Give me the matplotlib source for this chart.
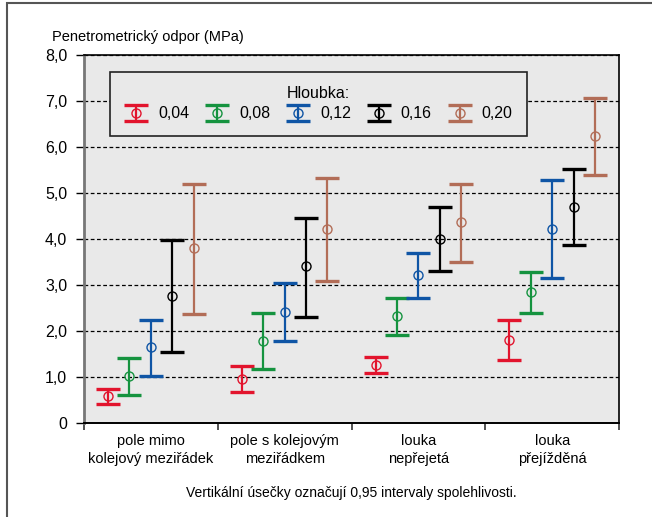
import matplotlib
matplotlib.use("Agg")
import matplotlib.pyplot as plt
import numpy as np
from matplotlib.patches import Rectangle

plt.rcParams["font.family"] = ["Liberation Sans Narrow", "Liberation Sans", "DejaVu Sans"]

# data (MPa)
categories = ["pole mimo\nkolejový meziřádek", "pole s kolejovým\nmeziřádkem",
              "louka\nnepřejetá", "louka\npřejížděná"]
depths = ["0,04", "0,08", "0,12", "0,16", "0,20"]

mean_004 = [0.58, 0.96, 1.26, 1.81]
low_004 = [0.42, 0.67, 1.08, 1.38]
high_004 = [0.74, 1.23, 1.43, 2.25]

mean_008 = [1.03, 1.78, 2.33, 2.84]
low_008 = [0.61, 1.17, 1.92, 2.39]
high_008 = [1.41, 2.39, 2.72, 3.28]

mean_012 = [1.65, 2.42, 3.21, 4.22]
low_012 = [1.03, 1.78, 2.71, 3.15]
high_012 = [2.25, 3.05, 3.70, 5.28]

mean_016 = [2.76, 3.41, 3.99, 4.69]
low_016 = [1.54, 2.31, 3.30, 3.86]
high_016 = [3.97, 4.46, 4.69, 5.52]

mean_020 = [3.80, 4.22, 4.36, 6.24]
low_020 = [2.38, 3.09, 3.50, 5.40]
high_020 = [5.20, 5.33, 5.20, 7.06]

series = [
    (mean_004, low_004, high_004, "#e2142d"),
    (mean_008, low_008, high_008, "#15933f"),
    (mean_012, low_012, high_012, "#0f55a5"),
    (mean_016, low_016, high_016, "#000000"),
    (mean_020, low_020, high_020, "#b26d57"),
]

yticks = [0, 1, 2, 3, 4, 5, 6, 7, 8]
ytick_labels = ["0", "1,0", "2,0", "3,0", "4,0", "5,0", "6,0", "7,0", "8,0"]

fig = plt.figure(figsize=(6.52, 5.17), dpi=100)
fig.patches.append(Rectangle((7 / 652, -0.1), 1.2, 1 - 3 / 517 + 0.1,
                             transform=fig.transFigure, fill=False,
                             edgecolor="#555555", linewidth=1.5))

ax = fig.add_axes([84 / 652, 94 / 517, 535 / 652, 368 / 517])
ax.set_facecolor("#e9e9e9")

centers = np.arange(len(categories)) + 0.5
step = 0.16
handles = []
for i, (mean, low, high, color) in enumerate(series):
    x = centers + (i - 2) * step
    mean = np.array(mean)
    err = [mean - np.array(low), np.array(high) - mean]
    h = ax.errorbar(x, mean, yerr=err, fmt="o", color=color, mfc="none",
                    mec=color, ms=6.5, elinewidth=1.6,
                    capsize=8.4, capthick=2.4, zorder=3)
    # thin circle edge, keep the caps bold
    h[0].set_markeredgewidth(1.0)
    handles.append(h)

ax.set_xlim(0, 4)
ax.set_ylim(0, 8)
ax.set_yticks(yticks)
ax.set_yticklabels(ytick_labels)
ax.set_xticks([0, 1, 2, 3, 4])
ax.set_xticklabels([])
ax.set_xticks(centers, minor=True)
ax.set_xticklabels(categories, minor=True, fontsize=10.5, linespacing=1.35)
ax.tick_params(axis="x", which="minor", length=0, pad=8)
ax.tick_params(axis="x", which="major", length=5, width=1.2, color="#333333")
ax.tick_params(axis="y", length=6, width=1.0, pad=6, labelsize=11.5)

ax.set_axisbelow(True)
ax.yaxis.grid(True, linestyle=(0, (3, 2)), color="black", linewidth=0.9)

ax.spines["left"].set_color("#777777")
ax.spines["left"].set_linewidth(2.0)
ax.spines["bottom"].set_linewidth(1.4)
ax.spines["right"].set_linewidth(1.2)
ax.spines["top"].set_linewidth(1.2)

leg = ax.legend(handles, depths, title="Hloubka:", ncol=5, loc="upper left",
                bbox_to_anchor=(26 / 535, 288 / 368, 417 / 535, 63 / 368),
                mode="expand", fontsize=11.5, title_fontsize=11.5,
                frameon=True, fancybox=False, framealpha=1,
                facecolor="#e9e9e9", edgecolor="#222222",
                handlelength=1.5, handletextpad=0.6, borderpad=0.9,
                borderaxespad=0, labelspacing=0.3)
leg.get_frame().set_linewidth(1.2)

fig.text(52 / 652, 1 - 37 / 517, "Penetrometrický odpor (MPa)",
         fontsize=10.5, ha="left", va="center")
fig.text(351 / 652, 1 - 493 / 517,
         "Vertikální úsečky označují 0,95 intervaly spolehlivosti.",
         fontsize=10, ha="center", va="center")

fig.savefig("out.png", dpi=100)
